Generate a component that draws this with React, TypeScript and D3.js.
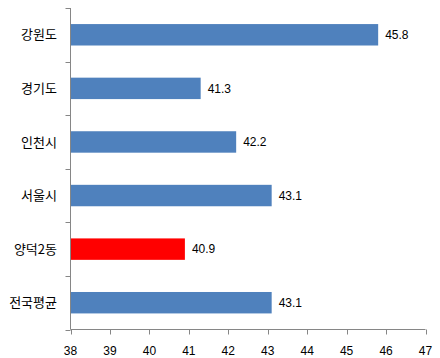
import React from "react";
import * as d3 from "d3";

const categories = ["강원도", "경기도", "인천시", "서울시", "양덕2동", "전국평균"];
const values = [45.8, 41.3, 42.2, 43.1, 40.9, 43.1];
const highlight = "양덕2동";
const xTicks = [38, 39, 40, 41, 42, 43, 44, 45, 46, 47];

const W = 440;
const H = 358;
const left = 70.5;
const right = 425.5;
const top = 8;
const bottom = 329.5;

export default function App() {
  const x = d3.scaleLinear().domain([38, 47]).range([left, right]);
  const y = d3.scaleBand<string>().domain(categories).range([top, bottom]).paddingInner(0.6).paddingOuter(0.3);
  const step = y.step();
  const boundaries = d3.range(categories.length + 1).map((i) => top + ((bottom - top) / categories.length) * i);
  const axisColor = "#868686";
  return (
    <svg width={W} height={H} style={{ position: "absolute", left: 0, top: 0, background: "#fff" }}>
      {categories.map((c, i) => (
        <g key={c}>
          <rect
            x={x(38)}
            y={y(c)!}
            width={x(values[i]) - x(38)}
            height={y.bandwidth()}
            fill={c === highlight ? "#FF0000" : "#4F81BD"}
          />
          <text
            x={x(values[i]) + 7}
            y={y(c)! + y.bandwidth() / 2}
            dy="0.35em"
            fontFamily="Liberation Sans, Arial, sans-serif"
            fontSize={12}
            fill="#000"
          >
            {values[i].toFixed(1)}
          </text>
          <text
            x={57}
            y={y(c)! + y.bandwidth() / 2}
            dy="0.36em"
            textAnchor="end"
            fontFamily="Noto Sans CJK KR, sans-serif"
            fontSize={13}
            fill="#000"
          >
            {c}
          </text>
        </g>
      ))}
      <line x1={left} x2={left} y1={top} y2={bottom} stroke={axisColor} />
      {boundaries.map((b, i) => (
        <line key={i} x1={left - 5} x2={left} y1={Math.round(b) + 0.5} y2={Math.round(b) + 0.5} stroke={axisColor} />
      ))}
      <line x1={left} x2={right} y1={bottom} y2={bottom} stroke={axisColor} />
      {xTicks.map((t) => (
        <g key={t}>
          <line x1={Math.round(x(t)) + 0.5} x2={Math.round(x(t)) + 0.5} y1={bottom} y2={bottom + 5} stroke={axisColor} />
          <text
            x={x(t)}
            y={351}
            dy="0.35em"
            textAnchor="middle"
            fontFamily="Liberation Sans, Arial, sans-serif"
            fontSize={12}
            fill="#000"
          >
            {t}
          </text>
        </g>
      ))}
    </svg>
  );
}
